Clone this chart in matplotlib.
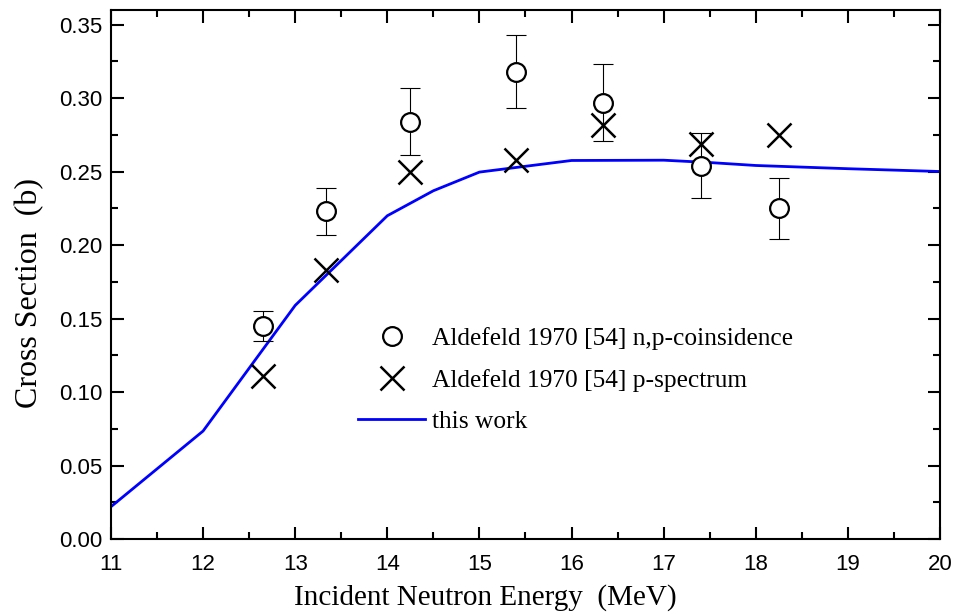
import numpy as np
import matplotlib.pyplot as plt
from matplotlib.ticker import MultipleLocator

# this work (calculation)
calc_energy = [11.0, 12.0, 13.0, 14.0, 14.5, 15.0, 16.0, 17.0, 17.5, 18.0, 19.0, 20.0]
calc_xs = [0.022, 0.0735, 0.159, 0.220, 0.237, 0.2497, 0.2576, 0.2578, 0.2562, 0.2542, 0.2520, 0.2501]

# Aldefeld 1970 [54] n,p-coinsidence
coin_energy = [12.65, 13.33, 14.25, 15.40, 16.34, 17.40, 18.25]
coin_xs = [0.145, 0.223, 0.284, 0.318, 0.297, 0.254, 0.225]
coin_err = [0.010, 0.016, 0.023, 0.025, 0.026, 0.022, 0.021]

# Aldefeld 1970 [54] p-spectrum
spec_energy = [12.65, 13.33, 14.25, 15.40, 16.34, 17.40, 18.25]
spec_xs = [0.111, 0.183, 0.250, 0.258, 0.282, 0.269, 0.275]

SERIF = ['Liberation Serif', 'DejaVu Serif']
SANS = ['Liberation Sans', 'DejaVu Sans']

fig = plt.figure(figsize=(9.55, 6.14), dpi=100)
ax = fig.add_axes([0.1162, 0.1221, 0.8681, 0.8616])

ax.plot(calc_energy, calc_xs, color='#0000ff', lw=2.0, label='this work', zorder=2)
ax.errorbar(coin_energy, coin_xs, yerr=coin_err, fmt='none', ecolor='black',
            elinewidth=0.8, capsize=7.5, capthick=0.8, zorder=3)
ax.plot(coin_energy, coin_xs, 'o', ms=13.5, mfc='white', mec='black', mew=1.6,
        ls='none', label='Aldefeld 1970 [54] n,p-coinsidence', zorder=4)
ax.plot(spec_energy, spec_xs, 'x', ms=17, mec='black', mew=1.8,
        ls='none', label='Aldefeld 1970 [54] p-spectrum', zorder=5)

ax.set_xlim(11, 20)
ax.set_ylim(0, 0.36)
ax.xaxis.set_major_locator(MultipleLocator(1))
ax.xaxis.set_minor_locator(MultipleLocator(0.5))
ax.yaxis.set_major_locator(MultipleLocator(0.05))
ax.yaxis.set_minor_locator(MultipleLocator(0.025))
ax.yaxis.set_major_formatter(plt.FormatStrFormatter('%.2f'))

ax.tick_params(which='both', direction='in', top=True, right=True, width=1.5)
ax.tick_params(which='major', length=9)
ax.tick_params(which='minor', length=5)
ax.tick_params(axis='x', pad=10.5)
ax.tick_params(axis='y', pad=6)
for lab in ax.get_xticklabels() + ax.get_yticklabels():
    lab.set_family(SANS)
    lab.set_fontsize(16)
for sp in ax.spines.values():
    sp.set_linewidth(1.5)

ax.set_xlabel('Incident Neutron Energy  (MeV)', family=SERIF, fontsize=21)
ax.set_ylabel('Cross Section  (b)', family=SERIF, fontsize=23)
ax.xaxis.set_label_coords(0.4517, -0.085)
ax.yaxis.set_label_coords(-0.081, 0.466)

handles, labels = ax.get_legend_handles_labels()
order = [1, 2, 0]
leg = ax.legend([handles[i] for i in order], [labels[i] for i in order],
                loc='upper left', bbox_to_anchor=(0.286, 0.42), frameon=False,
                prop={'family': SERIF, 'size': 18.3}, handlelength=2.64,
                handletextpad=0.28, labelspacing=0.74, borderaxespad=0)

fig.savefig('out.png', dpi=100)
